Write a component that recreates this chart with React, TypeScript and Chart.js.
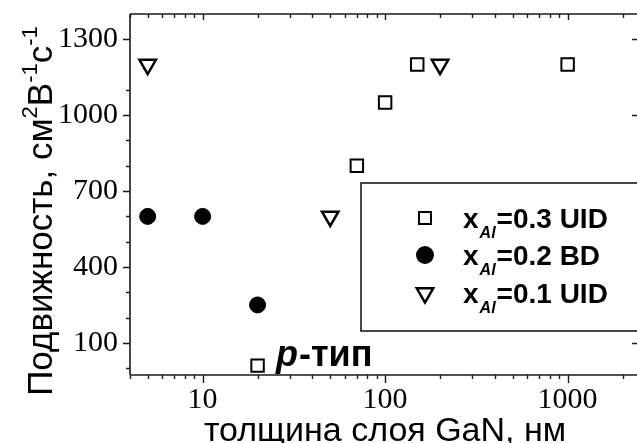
import React, { useEffect, useRef } from 'react';
import { Chart, registerables } from 'chart.js';

Chart.register(...registerables);

// ---- data ----
const thicknessUID03 = [20, 70, 100, 150, 1000];
const mobilityUID03 = [10, 800, 1050, 1200, 1200];
const thicknessBD02 = [5, 10, 20];
const mobilityBD02 = [600, 600, 250];
const thicknessUID01 = [5, 50, 200];
const mobilityUID01 = [1200, 600, 1200];

const seriesNames = ['=0.3 UID', '=0.2 BD', '=0.1 UID'];
const xMajorTicks = [10, 100, 1000];
const xMinorTicks = [4, 5, 6, 7, 8, 9, 20, 30, 40, 50, 60, 70, 80, 90, 200, 300, 400, 500, 600, 700, 800, 900, 2000];
const yMajorTicks = [100, 400, 700, 1000, 1300];
const yMinorTicks = [0, 200, 300, 500, 600, 800, 900, 1100];

const xTitle = 'толщина слоя GaN, нм';
const yTitleParts = [
  { t: 'Подвижность, см', sup: false },
  { t: '2', sup: true },
  { t: 'В', sup: false },
  { t: '-1', sup: true },
  { t: 'с', sup: false },
  { t: '-1', sup: true },
];
const annotationItalic = 'p';
const annotationRest = '-тип';

const SANS = '"Liberation Sans", Arial, sans-serif';
const SERIF = '"Liberation Serif", "Times New Roman", serif';
const INK = '#1a1a1a';
const PLOT = { left: 130, top: 14, right: 637, bottom: 375 };

function toPoints(xs: number[], ys: number[]) {
  return xs.map((x, i) => ({ x, y: ys[i] }));
}

function drawMarker(ctx: CanvasRenderingContext2D, kind: string, x: number, y: number) {
  ctx.save();
  ctx.strokeStyle = '#000';
  ctx.fillStyle = '#000';
  if (kind === 'rect') {
    ctx.lineWidth = 2;
    ctx.strokeRect(x - 6, y - 6, 12, 12);
  } else if (kind === 'circle') {
    ctx.beginPath();
    ctx.arc(x, y, 9, 0, Math.PI * 2);
    ctx.fill();
  } else {
    const r = 9.5;
    ctx.lineWidth = 2.5;
    ctx.beginPath();
    ctx.moveTo(x, y + r);
    ctx.lineTo(x - r * 0.866, y - r / 2);
    ctx.lineTo(x + r * 0.866, y - r / 2);
    ctx.closePath();
    ctx.stroke();
  }
  ctx.restore();
}

function zeroPad(s: any) {
  s.paddingTop = 0;
  s.paddingBottom = 0;
  s.paddingLeft = 0;
  s.paddingRight = 0;
}

const decorPlugin = {
  id: 'decor',
  afterLayout(chart: any) {
    // pin the plot frame to the reference geometry
    const a = chart.chartArea;
    a.left = PLOT.left;
    a.right = PLOT.right;
    a.top = PLOT.top;
    a.bottom = PLOT.bottom;
    a.width = PLOT.right - PLOT.left;
    a.height = PLOT.bottom - PLOT.top;
    const xs = chart.scales.x;
    xs.left = PLOT.left;
    xs.right = PLOT.right;
    xs.width = PLOT.right - PLOT.left;
    xs.configure();
    const ys = chart.scales.y;
    ys.top = PLOT.top;
    ys.bottom = PLOT.bottom;
    ys.height = PLOT.bottom - PLOT.top;
    ys.configure();
  },
  beforeDatasetsDraw(chart: any) {
    const { ctx, chartArea: a, scales } = chart;
    const xs = scales.x;
    const ys = scales.y;
    ctx.save();
    ctx.strokeStyle = INK;
    ctx.lineWidth = 1.6;
    ctx.beginPath();
    ctx.moveTo(a.left, a.top);
    ctx.lineTo(a.left, a.bottom);
    ctx.moveTo(a.left, a.top);
    ctx.lineTo(a.right, a.top);
    ctx.moveTo(a.left, a.bottom);
    ctx.lineTo(a.right, a.bottom);
    ctx.stroke();
    ctx.lineWidth = 1.4;
    ctx.beginPath();
    for (const v of xMajorTicks) {
      const p = Math.round(xs.getPixelForValue(v)) + 0.5;
      ctx.moveTo(p, a.bottom); ctx.lineTo(p, a.bottom + 8);
      ctx.moveTo(p, a.top); ctx.lineTo(p, a.top + 6);
    }
    for (const v of xMinorTicks) {
      const p = Math.round(xs.getPixelForValue(v)) + 0.5;
      ctx.moveTo(p, a.bottom); ctx.lineTo(p, a.bottom + 4);
      ctx.moveTo(p, a.top); ctx.lineTo(p, a.top + 4);
    }
    for (const v of yMajorTicks) {
      const p = Math.round(ys.getPixelForValue(v)) + 0.5;
      ctx.moveTo(a.left, p); ctx.lineTo(a.left - 7, p);
      ctx.moveTo(a.right, p); ctx.lineTo(a.right - 5, p);
    }
    for (const v of yMinorTicks) {
      const p = Math.round(ys.getPixelForValue(v)) + 0.5;
      ctx.moveTo(a.left, p); ctx.lineTo(a.left - 4, p);
    }
    ctx.stroke();

    // y title (rotated, with superscripts)
    const mainF = '35px ' + SANS;
    const supF = '22px ' + SANS;
    let total = 0;
    for (const part of yTitleParts) {
      ctx.font = part.sup ? supF : mainF;
      total += ctx.measureText(part.t).width;
    }
    ctx.translate(52, 211);
    ctx.rotate(-Math.PI / 2);
    ctx.fillStyle = '#000';
    ctx.textBaseline = 'alphabetic';
    ctx.textAlign = 'left';
    let cx = -total / 2;
    for (const part of yTitleParts) {
      ctx.font = part.sup ? supF : mainF;
      ctx.fillText(part.t, cx, part.sup ? -15 : 0);
      cx += ctx.measureText(part.t).width;
    }
    ctx.restore();

    // x title
    ctx.save();
    ctx.fillStyle = '#000';
    ctx.font = '34px ' + SANS;
    ctx.textAlign = 'center';
    ctx.textBaseline = 'alphabetic';
    ctx.fillText(xTitle, 385, 441);

    // p-type annotation
    ctx.textAlign = 'left';
    ctx.font = 'italic bold 36px ' + SANS;
    const ax = 276;
    ctx.fillText(annotationItalic, ax, 366);
    const pw = ctx.measureText(annotationItalic).width;
    ctx.font = 'bold 36px ' + SANS;
    ctx.fillText(annotationRest, ax + pw + 1, 366);
    ctx.restore();
  },
  afterDatasetsDraw(chart: any) {
    const { ctx } = chart;
    ctx.save();
    // legend box
    ctx.fillStyle = '#fff';
    ctx.fillRect(361, 183, 290, 148);
    ctx.strokeStyle = INK;
    ctx.lineWidth = 1.6;
    ctx.strokeRect(361, 183, 290, 148);
    const kinds = ['rect', 'circle', 'triangle'];
    const rows = [218, 255, 293];
    for (let i = 0; i < 3; i++) {
      const cy = rows[i];
      drawMarker(ctx, kinds[i], 425, cy);
      ctx.fillStyle = '#000';
      ctx.textBaseline = 'alphabetic';
      ctx.textAlign = 'left';
      ctx.font = 'bold 28px ' + SANS;
      let tx = 463;
      ctx.fillText('x', tx, cy + 10);
      tx += ctx.measureText('x').width + 1;
      ctx.font = 'italic bold 16px ' + SANS;
      ctx.fillText('Al', tx, cy + 20);
      tx += ctx.measureText('Al').width + 1;
      ctx.font = 'bold 28px ' + SANS;
      ctx.fillText(seriesNames[i], tx, cy + 10);
    }
    ctx.restore();
  },
};

export default function App() {
  const ref = useRef<HTMLCanvasElement | null>(null);
  useEffect(() => {
    document.body.style.margin = '0';
    document.body.style.overflow = 'hidden';
    const canvas = ref.current;
    if (!canvas) return;
    const chart = new Chart(canvas, {
      type: 'scatter',
      data: {
        datasets: [
          {
            label: 'xAl=0.3 UID',
            data: toPoints(thicknessUID03, mobilityUID03),
            pointStyle: 'rect',
            pointRadius: 8.8,
            borderColor: '#000',
            backgroundColor: 'rgba(255,255,255,0)',
            borderWidth: 2,
          },
          {
            label: 'xAl=0.2 BD',
            data: toPoints(thicknessBD02, mobilityBD02),
            pointStyle: 'circle',
            pointRadius: 8,
            borderColor: '#000',
            backgroundColor: '#000',
            borderWidth: 1,
          },
          {
            label: 'xAl=0.1 UID',
            data: toPoints(thicknessUID01, mobilityUID01),
            pointStyle: 'triangle',
            pointRotation: 180,
            pointRadius: 9.5,
            borderColor: '#000',
            backgroundColor: 'rgba(255,255,255,0)',
            borderWidth: 2.5,
          },
        ],
      },
      options: {
        responsive: false,
        animation: false,
        devicePixelRatio: 1,
        layout: { padding: { top: 14, right: 0, left: 0, bottom: 0 } },
        plugins: { legend: { display: false }, tooltip: { enabled: false } },
        scales: {
          x: {
            type: 'logarithmic',
            min: 4,
            max: 2400,
            grid: { display: false, drawTicks: false },
            border: { display: false },
            afterBuildTicks: (s: any) => {
              s.ticks = xMajorTicks.map((v) => ({ value: v }));
            },
            afterFit: (s: any) => {
              s.height = 68;
              zeroPad(s);
            },
            ticks: {
              color: '#000',
              padding: 7,
              maxRotation: 0,
              autoSkip: false,
              font: { family: SERIF, size: 30 },
              callback: (v: any) => String(v),
            },
          },
          y: {
            type: 'linear',
            min: -27,
            max: 1400,
            grid: { display: false, drawTicks: false },
            border: { display: false },
            afterBuildTicks: (s: any) => {
              s.ticks = yMajorTicks.map((v) => ({ value: v }));
            },
            afterFit: (s: any) => {
              s.width = 130;
              zeroPad(s);
            },
            ticks: {
              color: '#000',
              padding: 12,
              autoSkip: false,
              font: { family: SERIF, size: 30 },
              callback: (v: any) => String(v),
            },
          },
        },
      },
      plugins: [decorPlugin],
    });
    return () => chart.destroy();
  }, []);
  return (
    <div style={{ width: 637, height: 443, background: '#fff' }}>
      <canvas ref={ref} width={637} height={443} style={{ display: 'block' }} />
    </div>
  );
}
